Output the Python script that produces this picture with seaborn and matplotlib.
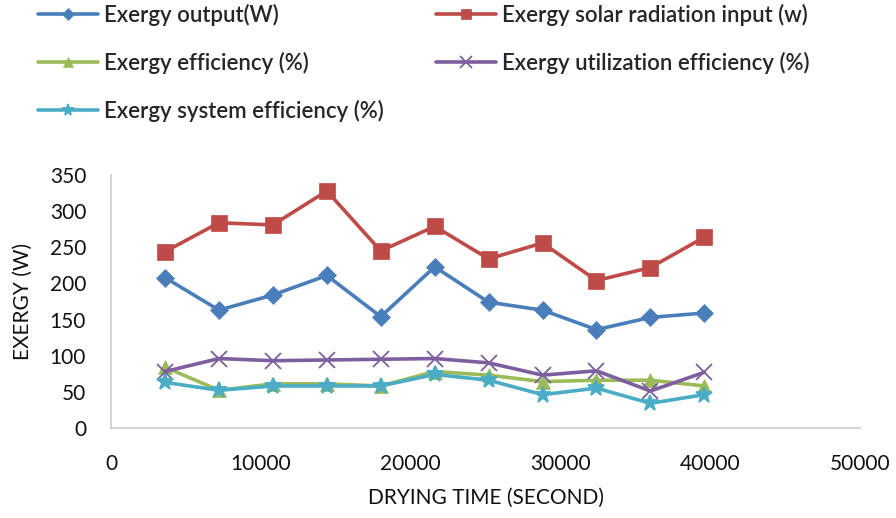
import pandas as pd
import matplotlib
matplotlib.use("Agg")
import matplotlib.pyplot as plt
import seaborn as sns

# Tempo di essiccazione (s)
drying_time = [3600, 7200, 10800, 14400, 18000, 21600, 25200, 28800, 32400, 36000, 39600]

exergy_output = [208, 163, 184, 211, 154, 223, 174, 163, 136, 153, 159]
solar_input = [244, 284, 281, 328, 245, 279, 234, 256, 204, 222, 264]
exergy_eff = [84, 52, 61, 61, 58, 78, 73, 64, 66, 66, 58]
utilization_eff = [78, 96, 93, 94, 95, 96, 90, 73, 79, 51, 77]
system_eff = [63, 52, 58, 58, 58, 74, 66, 46, 55, 34, 46]

labels = [
    "Exergy output(W)",
    "Exergy solar radiation input (w)",
    "Exergy efficiency (%)",
    "Exergy utilization efficiency (%)",
    "Exergy system efficiency (%)",
]
series = [exergy_output, solar_input, exergy_eff, utilization_eff, system_eff]
colors = ["#4A7EBB", "#BE4B48", "#9BBB59", "#7D5FA0", "#4BACC6"]
markers = ["D", "s", "^", "x", "*"]
msizes = [9, 11, 10, 12, 12]

sns.set_theme(style="white")
plt.rcParams["font.family"] = ["Lato", "DejaVu Sans"]

fig = plt.figure(figsize=(8.96, 5.18), dpi=100)
ax = fig.add_axes([0.124, 0.174, 0.836, 0.488])

for lab, vals, col, mk, ms in zip(labels, series, colors, markers, msizes):
    df = pd.DataFrame({"t": drying_time, "v": vals})
    sns.lineplot(data=df, x="t", y="v", ax=ax, color=col, marker=mk,
                 markersize=ms, linewidth=2.6, label=lab,
                 markeredgecolor=col, markeredgewidth=1.3 if mk in "x*" else 0.5)

ax.set_xlim(0, 50000)
ax.set_ylim(0, 350)
ax.set_xticks(range(0, 50001, 10000))
ax.set_yticks(range(0, 351, 50))
ax.tick_params(axis="x", length=0, labelsize=15, colors="#111111", pad=19)
ax.tick_params(axis="y", length=0, labelsize=15, colors="#111111", pad=18)
for s in ["top", "right"]:
    ax.spines[s].set_visible(False)
for s in ["left", "bottom"]:
    ax.spines[s].set_color("#CCCCCC")
    ax.spines[s].set_linewidth(1.2)
ax.set_xlabel("DRYING TIME (SECOND)", fontsize=15, color="#111111", labelpad=10)
ax.set_ylabel("EXERGY (W)", fontsize=15, color="#111111", labelpad=12)

handles, labs = ax.get_legend_handles_labels()
ax.get_legend().remove()

leg_kw = dict(loc="upper left", frameon=False, handlelength=2.7,
              markerscale=0.7, labelspacing=1.17, handletextpad=0.25,
              borderpad=0, borderaxespad=0, prop={"weight": "semibold", "size": 16})
left_col = [0, 2, 4]
right_col = [1, 3]
fig.legend([handles[i] for i in left_col], [labs[i] for i in left_col],
           bbox_to_anchor=(38 / 896, 0.993), **leg_kw)
fig.legend([handles[i] for i in right_col], [labs[i] for i in right_col],
           bbox_to_anchor=(436 / 896, 0.993), **leg_kw)

plt.savefig("out.png", dpi=100)
